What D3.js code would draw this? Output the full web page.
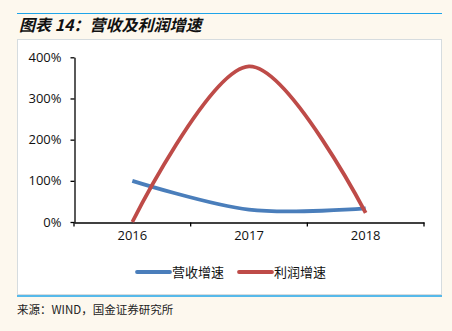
<!DOCTYPE html>
<html><head><meta charset="utf-8">
<script src="https://cdn.jsdelivr.net/npm/d3@7"></script>
<style>
html,body{margin:0;padding:0;background:#fdf8ee;}
svg{display:block;}
</style></head>
<body>
<svg id="c" width="452" height="331"></svg>
<script>
const categories = ["2016", "2017", "2018"];
const revenueGrowth = [100, 30, 33];
const profitGrowth = [0, 378, 22];
const seriesNames = ["营收增速", "利润增速"];
const yTicks = [0, 100, 200, 300, 400];
const titleText = "图表 14：营收及利润增速";
const sourceText = "来源：WIND，国金证券研究所";

const svg = d3.select("#c");
const font = "'Open Sans','Noto Sans CJK SC',sans-serif";

// frame lines
svg.append("rect").attr("x",0).attr("y",0).attr("width",452).attr("height",331).attr("fill","#fdf8ee");
svg.append("line").attr("x1",17).attr("x2",442).attr("y1",13.5).attr("y2",13.5).attr("stroke","#1ea4e9").attr("stroke-width",1.2);
svg.append("text").attr("x",19).attr("y",31).text(titleText)
  .attr("font-family","'Noto Sans CJK SC',sans-serif").attr("font-size",16).attr("font-weight","bold")
  .attr("font-style","italic").attr("fill","#111");
svg.append("rect").attr("x",17.5).attr("y",39.5).attr("width",424).attr("height",255)
  .attr("fill","#fff").attr("stroke","#d6dcdf").attr("stroke-width",1);
svg.append("line").attr("x1",17).attr("x2",442).attr("y1",296).attr("y2",296).attr("stroke","#1ea4e9").attr("stroke-width",1.5);
svg.append("text").attr("x",17).attr("y",314).text(sourceText)
  .attr("font-family","'Noto Sans CJK SC',serif").attr("font-size",11.5).attr("fill","#222");

// scales
const x = d3.scaleBand().domain(categories).range([74, 424]).padding(0);
const y = d3.scaleLinear().domain([0, 400]).range([222, 57.3]);

// y axis
const yAxis = d3.axisLeft(y).tickValues(yTicks).tickFormat(d => d + "%").tickSize(4).tickSizeOuter(0);
const gy = svg.append("g").attr("transform","translate(74.5,0)").call(yAxis);
gy.select(".domain").attr("stroke","#000").attr("stroke-width",1.3);
gy.selectAll(".tick line").attr("stroke","#000").attr("stroke-width",1.3);
gy.selectAll("text").attr("font-family",font).attr("font-size",13).attr("fill","#111").attr("x",-13);

// x axis
const xAxis = d3.axisBottom(x).tickSize(0).tickSizeOuter(0);
const gx = svg.append("g").attr("transform","translate(0,222.5)").call(xAxis);
gx.select(".domain").attr("stroke","#000").attr("stroke-width",1.3);
gx.selectAll("text").attr("font-family",font).attr("font-size",13).attr("fill","#111").attr("dy","1.15em");
// category boundary ticks
const bounds = categories.map(c => x(c)).concat([x.range()[1]]);
gx.selectAll(".bt").data(bounds).enter().append("line")
  .attr("x1",d=>d).attr("x2",d=>d).attr("y1",0).attr("y2",4).attr("stroke","#000").attr("stroke-width",1.3);

// lines
const line = d3.line().x((d,i)=>x(categories[i]) + x.bandwidth()/2).y(d=>y(d)).curve(d3.curveCatmullRom.alpha(0));
const colors = ["#4a7ebb", "#be4b48"];
[revenueGrowth, profitGrowth].forEach((s,i)=>{
  svg.append("path").attr("d", line(s)).attr("fill","none").attr("stroke",colors[i])
    .attr("stroke-width",3.8).attr("stroke-linecap","butt");
});

// legend
const legX = [137, 239];
seriesNames.forEach((n,i)=>{
  svg.append("line").attr("x1",legX[i]).attr("x2",legX[i]+33).attr("y1",272).attr("y2",272)
    .attr("stroke",colors[i]).attr("stroke-width",3.8).attr("stroke-linecap","round");
  svg.append("text").attr("x",legX[i]+35).attr("y",277).text(n)
    .attr("font-family","'Noto Sans CJK SC',sans-serif").attr("font-size",13).attr("fill","#111");
});
</script>
</body></html>
